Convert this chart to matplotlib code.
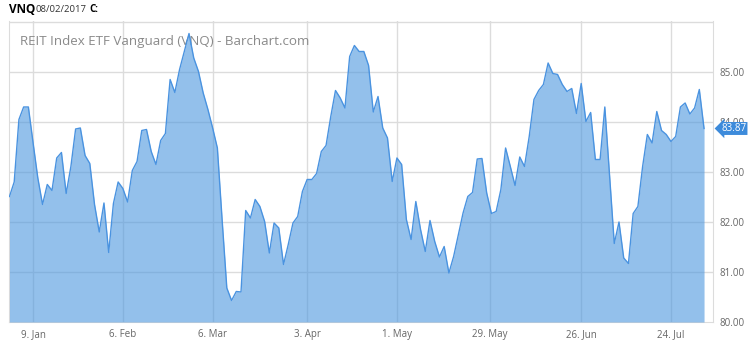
import numpy as np
import pandas as pd
from matplotlib import pyplot as plt

# VNQ daily closes, 30 Dec 2016 .. 2 Aug 2017
closes = [82.51, 82.80, 84.05, 84.30, 84.30, 83.58, 82.88, 82.35, 82.75, 82.63,
          83.28, 83.39, 82.57, 83.11, 83.86, 83.88, 83.33, 83.17, 82.35, 81.80,
          82.38, 81.39, 82.37, 82.80, 82.67, 82.40, 83.03, 83.21, 83.83, 83.85,
          83.41, 83.15, 83.63, 83.77, 84.85, 84.59, 85.05, 85.41, 85.77, 85.28,
          85.01, 84.58, 84.25, 83.88, 83.48, 82.05, 80.68, 80.43, 80.61, 80.60,
          82.23, 82.08, 82.45, 82.31, 82.01, 81.38, 81.98, 81.88, 81.15, 81.55,
          81.98, 82.11, 82.61, 82.85, 82.85, 82.97, 83.41, 83.53, 84.11, 84.63,
          84.48, 84.28, 85.31, 85.53, 85.41, 85.41, 85.13, 84.20, 84.51, 83.88,
          83.68, 82.81, 83.28, 83.15, 82.05, 81.65, 82.41, 81.85, 81.41, 82.03,
          81.61, 81.30, 81.51, 80.98, 81.31, 81.75, 82.18, 82.51, 82.59, 83.26,
          83.27, 82.58, 82.17, 82.21, 82.65, 83.48, 83.11, 82.73, 83.30, 83.11,
          83.71, 84.45, 84.63, 84.75, 85.18, 84.97, 84.95, 84.75, 84.61, 84.67,
          84.17, 84.77, 84.01, 84.19, 83.25, 83.25, 84.30, 82.95, 81.57, 82.00,
          81.28, 81.17, 82.17, 82.31, 83.11, 83.75, 83.58, 84.21, 83.83, 83.75,
          83.61, 83.71, 84.30, 84.38, 84.16, 84.28, 84.65, 83.87]

holidays = ['2017-01-02', '2017-01-16', '2017-02-20', '2017-04-14',
            '2017-05-29', '2017-07-04']
tick_dates = ['2017-01-09', '2017-02-06', '2017-03-06', '2017-04-03',
              '2017-05-01', '2017-05-29', '2017-06-26', '2017-07-24']
tick_labels = ['9. Jan', '6. Feb', '6. Mar', '3. Apr',
               '1. May', '29. May', '26. Jun', '24. Jul']
y_ticks = [80, 81, 82, 83, 84, 85]

days = pd.bdate_range('2016-12-30', '2017-08-02')
days = days[~days.isin(pd.to_datetime(holidays))]
x = np.arange(len(closes))
# ordinal axis: place date labels by interpolating over trading days
tick_pos = np.interp(pd.to_datetime(tick_dates).map(pd.Timestamp.toordinal),
                     days.map(pd.Timestamp.toordinal), np.arange(len(days)))

fill_col = '#4b96de'
line_col = '#4a93e0'
grid_col = '#dcdcdc'
txt_col = '#666666'

plt.rcParams['font.family'] = ['Open Sans', 'DejaVu Sans']
fig = plt.figure(figsize=(7.5, 3.44), dpi=100)
ax = fig.add_axes([0.012, 0.064, 0.9387, 0.875])

ax.fill_between(x, 80, closes, color=fill_col, alpha=0.6, lw=0, zorder=3)
ax.plot(x, closes, color=line_col, lw=1.0, zorder=4)

ax.set_xlim(-0.1, 148.9)
ax.set_ylim(80, 86.02)
for p in tick_pos:
    ax.axvline(p, color=grid_col, lw=1, zorder=1)
for v in y_ticks[1:] + [86]:
    ax.axhline(v, color=grid_col, lw=1, zorder=1)
for s in ax.spines.values():
    s.set_color(grid_col)
ax.spines['top'].set_visible(False)

ax.set_xticks(tick_pos)
ax.set_xticklabels(tick_labels)
ax.yaxis.tick_right()
ax.set_yticks(y_ticks)
ax.set_yticklabels([f'{v:.2f}' for v in y_ticks])
ax.tick_params(length=0, labelsize=7, colors=txt_col)
ax.tick_params(axis='x', pad=5)
ax.tick_params(axis='y', pad=5)

ax.text(0.016, 0.955, 'REIT Index ETF Vanguard (VNQ) - Barchart.com',
        transform=ax.transAxes, fontsize=9.6, color='#8a8a8a',
        va='top', ha='left', zorder=2)

# last price tag
ax.annotate(f'{closes[-1]:.2f}', xy=(1.0, closes[-1]),
            xycoords=('axes fraction', 'data'),
            xytext=(6, 0), textcoords='offset points',
            fontsize=7, color='white', va='center', ha='left',
            bbox=dict(boxstyle='larrow,pad=0.1', fc='#3d8bdb', ec='none'),
            annotation_clip=False, zorder=6)

fig.text(0.012, 0.972, 'VNQ', fontsize=8.5, fontweight='bold', va='center')
fig.text(0.048, 0.972, '08/02/2017', fontsize=6.8, va='center', color='#333333')
fig.text(0.119, 0.972, 'C:', fontsize=7, fontweight='bold', va='center')

fig.savefig('out.png', dpi=100)
